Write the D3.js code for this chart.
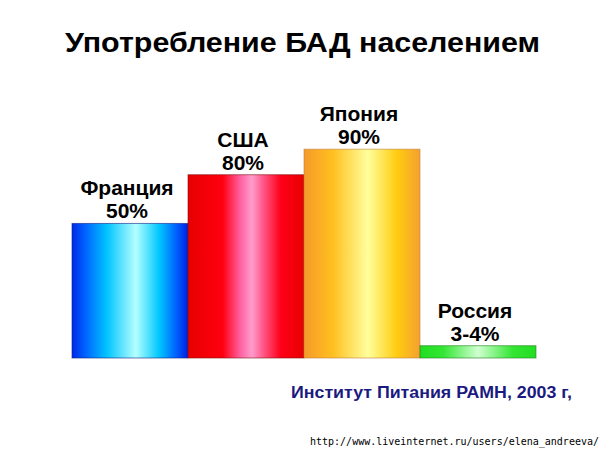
<!DOCTYPE html>
<html><head><meta charset="utf-8">
<script src="https://cdn.jsdelivr.net/npm/d3@7/dist/d3.min.js"></script>
<style>html,body{margin:0;padding:0;background:#fff;}svg{display:block;}</style>
</head><body>
<svg id="chart" width="604" height="453"></svg>
<script>
const titleText = "Употребление БАД населением";
const categories = ["Франция", "США", "Япония", "Россия"];
const valueLabels = ["50%", "80%", "90%", "3-4%"];
// bar heights as drawn in the picture (percent scale 0-100)
const barValues = [58, 79, 90, 5.3];
const sourceText = "Институт Питания РАМН, 2003 г,";
const urlText = "http://www.liveinternet.ru/users/elena_andreeva/";
const gradients = [
  [[0,"#0028e8"],[0.12,"#0066ff"],[0.3,"#00c4ff"],[0.55,"#b4ffff"],[0.75,"#00c8ff"],[0.9,"#0060ff"],[1,"#0020e0"]],
  [[0,"#e80000"],[0.3,"#ff0010"],[0.45,"#ff60a0"],[0.55,"#ff9ccc"],[0.66,"#ff5080"],[0.8,"#ff0018"],[1,"#e80000"]],
  [[0,"#f59a2a"],[0.25,"#ffc020"],[0.55,"#ffff9c"],[0.8,"#ffcc10"],[1,"#f5a030"]],
  [[0,"#22dd22"],[0.2,"#33e633"],[0.5,"#d0ffd0"],[0.8,"#33e633"],[1,"#22dd22"]]
];
const strokes = ["#102080","#801010","#c08040","#208020"];

const svg = d3.select("#chart");
svg.append("rect").attr("width",604).attr("height",453).attr("fill","#fff");
const defs = svg.append("defs");
gradients.forEach((g,i)=>{
  const lg = defs.append("linearGradient").attr("id","g"+i).attr("x1","0").attr("x2","1").attr("y1","0").attr("y2","0");
  g.forEach(s=>lg.append("stop").attr("offset",s[0]).attr("stop-color",s[1]));
});

const x = d3.scaleBand().domain(categories).range([72,536]).padding(0);
const y = d3.scaleLinear().domain([0,100]).range([358,126]);

svg.append("text").attr("x",65).attr("y",52)
  .attr("font-family","'Liberation Sans', Arial, sans-serif").attr("font-weight","bold")
  .attr("font-size",28).attr("fill","#000")
  .attr("textLength",475).attr("lengthAdjust","spacingAndGlyphs").text(titleText);

const g = svg.append("g");
categories.forEach((c,i)=>{
  g.append("rect").attr("x",x(c)).attr("y",y(barValues[i])).attr("width",x.bandwidth())
    .attr("height",y(0)-y(barValues[i])).attr("fill","url(#g"+i+")")
    .attr("stroke",strokes[i]).attr("stroke-opacity",0.6).attr("stroke-width",1);
  const cx = x(c)+x.bandwidth()/2 - 3;
  const t = g.append("text").attr("text-anchor","middle")
    .attr("font-family","'Liberation Sans', Arial, sans-serif").attr("font-weight","bold")
    .attr("font-size",21).attr("fill","#000");
  t.append("tspan").attr("x",cx).attr("y",y(barValues[i])-28).text(c);
  t.append("tspan").attr("x",cx).attr("y",y(barValues[i])-5).text(valueLabels[i]);
});

svg.append("text").attr("x",291).attr("y",398)
  .attr("font-family","'Liberation Sans', Arial, sans-serif").attr("font-weight","bold")
  .attr("font-size",16).attr("fill","#1a1a80")
  .attr("textLength",281).attr("lengthAdjust","spacingAndGlyphs").text(sourceText);

svg.append("text").attr("x",310).attr("y",445)
  .attr("font-family","'DejaVu Sans Mono', monospace")
  .attr("font-size",10).attr("fill","#000").text(urlText);
</script>
</body></html>
